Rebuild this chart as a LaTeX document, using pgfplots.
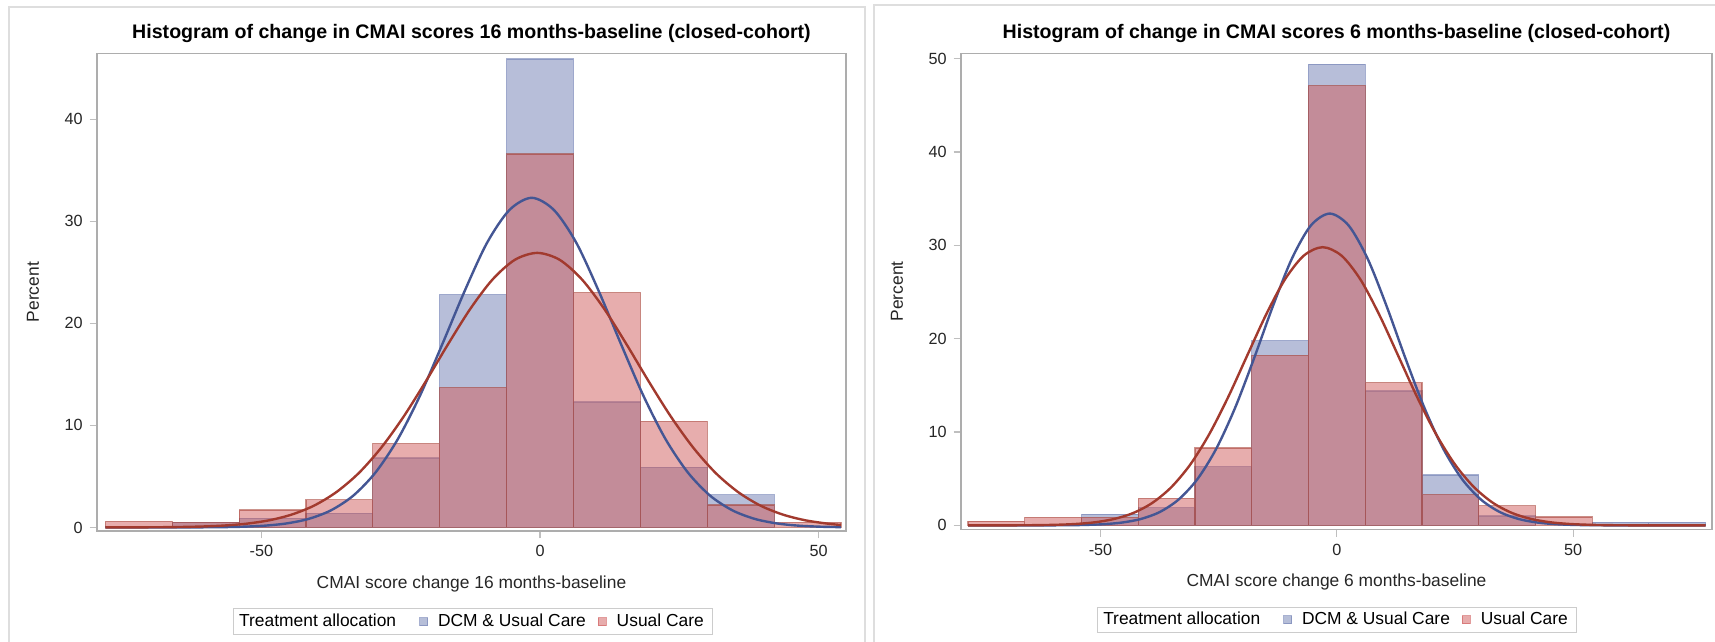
\documentclass[border=0pt]{standalone}
\usepackage{fontspec}
\setmainfont{Liberation Sans}
\usepackage{pgfplots}
\pgfplotsset{compat=1.18}
\definecolor{dcmfill}{HTML}{6F7EB3}
\definecolor{ucfill}{HTML}{D05B5B}
\definecolor{dcmline}{HTML}{445694}
\definecolor{ucline}{HTML}{A23A2E}
\pgfplotsset{
  sasaxis/.style={
    scale only axis,
    axis line style={black!32, line width=0.6pt},
    tick style={black!25, line width=0.6pt},
    major tick length=3.7pt,
    tick align=outside,
    xtick pos=bottom, ytick pos=left,
    /pgf/number format/assume math mode=true,
    tick label style={font=\fontsize{8.1}{10}\selectfont, text=black!85},
    label style={font=\fontsize{8.7}{10}\selectfont, text=black!85},
    every axis title shift=0pt,
    title style={font=\fontsize{9.8}{12}\selectfont\bfseries, at={(axis description cs:0.5,1.042)}, anchor=center},
    xlabel style={at={(axis description cs:0.5,-0.11)}, anchor=center},
    ylabel style={at={(axis description cs:-0.0854,0.5)}, anchor=center},
    xtick={-50,0,50},
    legend columns=-1,
    legend style={draw=black!20, line width=0.5pt, font=\fontsize{8.7}{10}\selectfont,
      inner xsep=1pt, inner ysep=0.5pt, column sep=0pt,
      nodes={inner sep=2pt}},
  },
  dcmbar/.style={ybar, bar width=12, bar shift=0pt, fill=dcmfill, fill opacity=0.5,
    draw=dcmfill, draw opacity=0.6, line width=0.6pt,
    legend image code/.code={\draw[fill=dcmfill, fill opacity=0.5, draw=dcmfill, draw opacity=0.6, line width=0.4pt] (0pt,-2pt) rectangle (4pt,2pt);}},
  ucbar/.style={ybar, bar width=12, bar shift=0pt, fill=ucfill, fill opacity=0.5,
    draw=ucline, draw opacity=0.55, line width=0.6pt,
    legend image code/.code={\draw[fill=ucfill, fill opacity=0.5, draw=ucfill, draw opacity=0.6, line width=0.4pt] (0pt,-2pt) rectangle (4pt,2pt);}},
  dcmcurve/.style={dcmline, line width=1.2pt, smooth, mark=none, forget plot},
  uccurve/.style={ucline, line width=1.2pt, smooth, mark=none, forget plot},
}
\newcommand{\legA}{Treatment allocation\hspace{9.5pt}\mbox{}}
\newcommand{\legB}{\mbox{}\hspace{3pt}DCM \& Usual Care\hspace{4pt}\mbox{}}
\newcommand{\legC}{\mbox{}\hspace{3pt}Usual Care\hspace{1.5pt}\mbox{}}
\begin{document}
\begin{tikzpicture}
\useasboundingbox (0pt,0pt) rectangle (857.5pt,321pt);
\draw[black!13, line width=1pt] (4.5pt,-5pt) |- (432.5pt,317.5pt) -- (432.5pt,-5pt);
\draw[black!13, line width=1pt] (437pt,-5pt) |- (870pt,318.5pt);
% ---------------- left panel ----------------
\begin{axis}[sasaxis,
  at={(48.5pt,55.5pt)}, anchor=south west,
  width=374.5pt, height=238.9pt,
  xmin=-79.5, xmax=54.9, ymin=-0.35, ymax=46.47,
  ytick={0,10,20,30,40},
  title={Histogram of change in CMAI scores 16 months-baseline (closed-cohort)},
  xlabel={CMAI score change 16 months-baseline},
  ylabel={Percent},
  legend style={at={(0.502,-0.19)}, anchor=center},
]
\addlegendimage{empty legend}
\addplot[dcmbar] coordinates {(-60,0.5) (-48,0.9) (-36,1.4) (-24,6.8) (-12,22.8) (0,45.9) (12,12.3) (24,5.9) (36,3.2)};
\addplot[ucbar] coordinates {(-72,0.6) (-60,0.5) (-48,1.7) (-36,2.7) (-24,8.2) (-12,13.7) (0,36.6) (12,23.0) (24,10.4) (36,2.2) (48,0.5)};
\addplot[dcmcurve] coordinates {(-78,0.000) (-73.5,0.000) (-69.5,0.001) (-65.5,0.003) (-61.5,0.009) (-57.5,0.025) (-53.5,0.067) (-49.5,0.168) (-45.5,0.39) (-41.5,0.84) (-37.5,1.68) (-33.5,3.12) (-29.5,5.40) (-25.5,8.67) (-21.5,12.96) (-17.5,18.0) (-13.5,23.2) (-9.5,27.9) (-5.5,31.1) (-1.5,32.3) (2.5,31.1) (6.5,27.9) (10.5,23.2) (14.5,18.0) (18.5,12.96) (22.5,8.67) (26.5,5.40) (30.5,3.12) (34.5,1.68) (38.5,0.84) (42.5,0.39) (46.5,0.168) (50.5,0.067) (54,0.028)};
\addplot[uccurve] coordinates {(-78,0.002) (-72.5,0.0075) (-68.5,0.018) (-64.5,0.042) (-60.5,0.092) (-56.5,0.191) (-52.5,0.377) (-48.5,0.709) (-44.5,1.27) (-40.5,2.15) (-36.5,3.48) (-32.5,5.34) (-28.5,7.81) (-24.5,10.84) (-20.5,14.31) (-16.5,17.96) (-12.5,21.43) (-8.5,24.31) (-4.5,26.23) (-0.5,26.9) (3.5,26.23) (7.5,24.31) (11.5,21.43) (15.5,17.96) (19.5,14.31) (23.5,10.84) (27.5,7.81) (31.5,5.34) (35.5,3.48) (39.5,2.15) (43.5,1.27) (47.5,0.709) (51.5,0.377) (54,0.24)};
\legend{\legA, \legB, \legC}
\end{axis}
% ---------------- right panel ----------------
\begin{axis}[sasaxis,
  at={(480.5pt,56.25pt)}, anchor=south west,
  width=375.5pt, height=238.15pt,
  xmin=-79.5, xmax=79.36, ymin=-0.44, ymax=50.58,
  ytick={0,10,20,30,40,50},
  title={Histogram of change in CMAI scores 6 months-baseline (closed-cohort)},
  xlabel={CMAI score change 6 months-baseline},
  ylabel={Percent},
  legend style={at={(0.5007,-0.1896)}, anchor=center},
]
\addlegendimage{empty legend}
\addplot[dcmbar] coordinates {(-48,1.2) (-36,1.9) (-24,6.3) (-12,19.8) (0,49.4) (12,14.4) (24,5.4) (36,1.0) (60,0.35) (72,0.35)};
\addplot[ucbar] coordinates {(-72,0.45) (-60,0.85) (-48,0.85) (-36,2.9) (-24,8.3) (-12,18.2) (0,47.1) (12,15.3) (24,3.3) (36,2.1) (48,0.9)};
\addplot[dcmcurve] coordinates {(-78,0) (-73.5,0) (-69.5,0.0) (-65.5,0.0015) (-61.5,0.005) (-57.5,0.016) (-53.5,0.046) (-49.5,0.123) (-45.5,0.30) (-41.5,0.679) (-37.5,1.42) (-33.5,2.76) (-29.5,4.95) (-25.5,8.22) (-21.5,12.62) (-17.5,17.91) (-13.5,23.52) (-9.5,28.58) (-5.5,32.12) (-1.5,33.4) (2.5,32.12) (6.5,28.58) (10.5,23.52) (14.5,17.91) (18.5,12.62) (22.5,8.22) (26.5,4.95) (30.5,2.76) (34.5,1.42) (38.5,0.679) (42.5,0.30) (46.5,0.123) (50.5,0.046) (54.5,0.016) (58.5,0.005) (62.5,0.0015) (66.5,0) (70.5,0) (74.5,0) (78,0)};
\addplot[uccurve] coordinates {(-78,0.0003) (-75,0.0013) (-71,0.0039) (-67,0.011) (-63,0.028) (-59,0.069) (-55,0.158) (-51,0.343) (-47,0.70) (-43,1.34) (-39,2.42) (-35,4.10) (-31,6.52) (-27,9.76) (-23,13.73) (-19,18.15) (-15,22.54) (-11,26.33) (-7,28.89) (-3,29.8) (1,28.89) (5,26.33) (9,22.54) (13,18.15) (17,13.73) (21,9.76) (25,6.52) (29,4.10) (33,2.42) (37,1.34) (41,0.70) (45,0.343) (49,0.158) (53,0.069) (57,0.028) (61,0.011) (65,0.0039) (69,0.0013) (73,0.0004) (78,0.0001)};
\legend{\legA, \legB, \legC}
\end{axis}
\end{tikzpicture}
\end{document}
